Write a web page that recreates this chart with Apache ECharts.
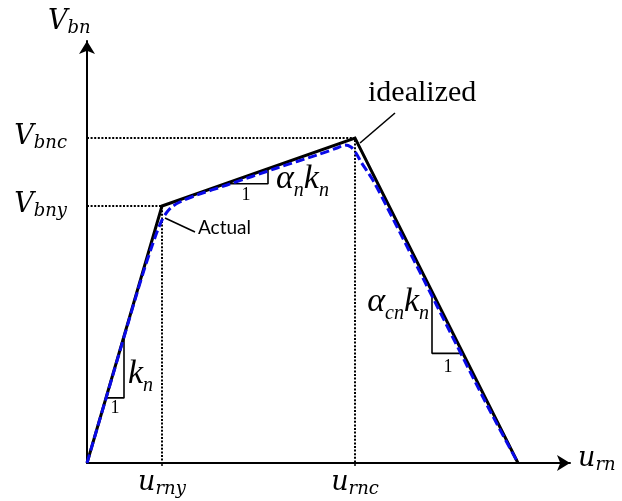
<!DOCTYPE html>
<html>
<head>
<meta charset="utf-8">
<script src="https://cdn.jsdelivr.net/npm/echarts@6/dist/echarts.min.js"></script>
<style>
  html, body { margin: 0; padding: 0; background: #ffffff; }
  #chart { width: 622px; height: 501px; }
</style>
</head>
<body>
<div id="chart"></div>
<script>
// Shear backbone of a bearing: trilinear idealization against the measured response.
// Units are schematic (no numeric ticks are shown).
const yieldDisp = 75;      // u_rny
const peakDisp = 268;      // u_rnc
const ultimateDisp = 431;  // shear drops to zero
const yieldForce = 257;    // V_bny
const peakForce = 325;     // V_bnc

const idealized = [
  [0, 0], [yieldDisp, yieldForce], [peakDisp, peakForce], [ultimateDisp, 0]
];

const actual = [
  [0, 0], [25, 85], [50, 170], [58, 196], [64, 214], [70, 231], [75, 243],
  [80, 251], [86, 257], [95, 262], [110, 268], [140, 278], [190, 295],
  [230, 308], [250, 315], [258, 318], [264, 316], [269, 310], [274, 301],
  [280, 292], [287, 281], [300, 256], [350, 157], [400, 58], [ultimateDisp, 0]
];

const xTicks = [yieldDisp, peakDisp];
const yTicks = [yieldForce, peakForce];
const xTickText = { [yieldDisp]: '{m|u}{s|rny}', [peakDisp]: '{m|u}{s|rnc}' };
const yTickText = { [yieldForce]: '{m|V}{s|bny}', [peakForce]: '{m|V}{s|bnc}' };

// y on the idealized branch that spans x
function onBranch(i, x) {
  const a = idealized[i], b = idealized[i + 1];
  return a[1] + (b[1] - a[1]) * (x - a[0]) / (b[0] - a[0]);
}

// slope triangles: [branch, x where the run starts, x where it ends]
function slopeTriangle(branch, x1, x2, descending) {
  if (descending) {
    const yLow = onBranch(branch, x2);
    return [[x1, onBranch(branch, x1)], [x1, yLow], [x2, yLow]];
  }
  const yLow = onBranch(branch, x1);
  return [[x1, yLow], [x2, yLow], [x2, onBranch(branch, x2)]];
}
const triangles = [
  slopeTriangle(0, 19, 37, false),
  slopeTriangle(1, 138, 181, false),
  slopeTriangle(2, 345, 376, true)
];

const guides = [
  [[0, yieldForce], [yieldDisp, yieldForce], [yieldDisp, 0]],
  [[0, peakForce], [peakDisp, peakForce], [peakDisp, 0]]
];

const leaders = [
  [[273, 320], [308, 350]],   // to "idealized"
  [[78, 245], [108, 231]]     // to "Actual"
];

const MATH = 'DejaVu Serif';
const TIMES = 'Liberation Serif';
const mathRich = {
  m: { fontFamily: MATH, fontStyle: 'italic', fontSize: 27, color: '#000', verticalAlign: 'top' },
  s: { fontFamily: MATH, fontStyle: 'italic', fontSize: 18, color: '#000', verticalAlign: 'top', padding: [11, 0, 0, 0] }
};
const slopeRich = {
  m: { fontFamily: TIMES, fontStyle: 'italic', fontSize: 34, color: '#000', verticalAlign: 'top' },
  s: { fontFamily: TIMES, fontStyle: 'italic', fontSize: 20, color: '#000', verticalAlign: 'top', padding: [19, 0, 0, 0] }
};

const chart = echarts.init(document.getElementById('chart'), null, { renderer: 'canvas' });

const lineSeries = (data, style, z) => ({
  type: 'line', data, symbol: 'none', silent: true, animation: false, z,
  lineStyle: style
});

const series = [];
guides.forEach(g => series.push(lineSeries(g, { color: '#000', width: 2, type: [2, 1.6] }, 1)));
triangles.forEach(t => series.push(lineSeries(t, { color: '#000', width: 1.6 }, 2)));
leaders.forEach(l => series.push(lineSeries(l, { color: '#000', width: 1.6 }, 2)));
series.push(lineSeries(idealized, { color: '#000', width: 3, join: 'miter' }, 3));
series.push(Object.assign(lineSeries(actual, { color: '#0a0ae8', width: 3, type: [9, 4] }, 4), { smooth: 0.3 }));

chart.setOption({
  animation: false,
  backgroundColor: '#ffffff',
  grid: { left: 87, right: 52, top: 41, bottom: 38, containLabel: false },
  xAxis: {
    type: 'value', min: 0, max: 483,
    axisLine: { show: true, onZero: false, symbol: ['none', 'arrow'], symbolSize: [12, 13],
      lineStyle: { color: '#000', width: 2 } },
    axisTick: { show: true, customValues: xTicks, length: 3, lineStyle: { color: '#000', width: 1.5 } },
    axisLabel: { show: true, customValues: xTicks, margin: 6, rich: mathRich,
      formatter: v => xTickText[v] || '' },
    splitLine: { show: false }
  },
  yAxis: {
    type: 'value', min: 0, max: 422,
    axisLine: { show: true, onZero: false, symbol: ['none', 'arrow'], symbolSize: [12, 13],
      lineStyle: { color: '#000', width: 2 } },
    axisTick: { show: false },
    axisLabel: { show: true, customValues: yTicks, margin: 20, rich: mathRich,
      formatter: v => yTickText[v] || '' },
    splitLine: { show: false }
  },
  series
});

// annotation texts anchored in data space
const notes = [
  { at: [281, 370], text: 'idealized', align: 'left', va: 'middle',
    font: { fontFamily: TIMES, fontSize: 30 } },
  { at: [111, 235], text: 'Actual', align: 'left', va: 'middle',
    font: { fontFamily: 'Lato', fontSize: 19 } },
  { at: [41, 106], text: '{m|k}{s|n}', align: 'left', va: 'top', rich: slopeRich },
  { at: [189, 301], text: '{m|α}{s|n}{m|k}{s|n}', align: 'left', va: 'top', rich: slopeRich },
  { at: [342, 178], text: '{m|α}{s|cn}{m|k}{s|n}', align: 'right', va: 'top', rich: slopeRich },
  { at: [28, 55], text: '1', align: 'center', va: 'middle', font: { fontFamily: TIMES, fontSize: 18 } },
  { at: [159, 268], text: '1', align: 'center', va: 'middle', font: { fontFamily: TIMES, fontSize: 18 } },
  { at: [361, 96], text: '1', align: 'center', va: 'middle', font: { fontFamily: TIMES, fontSize: 18 } }
];

const graphics = notes.map(n => {
  const p = chart.convertToPixel({ gridIndex: 0 }, n.at);
  return {
    type: 'text', x: p[0], y: p[1], silent: true,
    style: Object.assign({ text: n.text, align: n.align, verticalAlign: n.va, fill: '#000',
      rich: n.rich }, n.font || {})
  };
});
// axis names
graphics.push({ type: 'text', x: 48, y: 8, silent: true,
  style: { text: '{m|V}{s|bn}', rich: mathRich, align: 'left', verticalAlign: 'top' } });
graphics.push({ type: 'text', x: 578, y: 445, silent: true,
  style: { text: '{m|u}{s|rn}', rich: mathRich, align: 'left', verticalAlign: 'top' } });

chart.setOption({ graphic: graphics });
</script>
</body>
</html>
